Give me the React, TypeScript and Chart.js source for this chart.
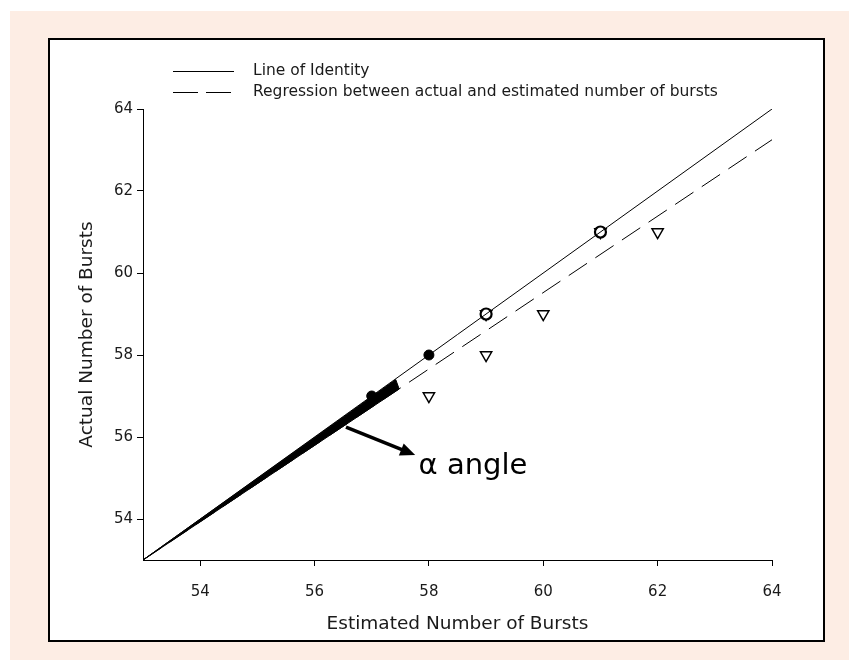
import React, { useEffect, useRef } from "react";
import { Chart, registerables } from "chart.js";

Chart.register(...registerables);

// ---- data ----
const axisMin = 53;
const axisMax = 64;
const xTicks = [54, 56, 58, 60, 62, 64];
const yTicks = [54, 56, 58, 60, 62, 64];

const identityX = [53, 64];
const identityY = [53, 64];
const regressionX = [53, 64];
const regressionY = [53, 63.25];

// overlapping bundle of lines forming the "alpha angle"
const bundleX = [53, 57.42, 57.48, 53];
const bundleY = [53, 57.4, 57.17, 53];

const actualFilledX = [57, 58];
const actualFilledY = [57, 58];
const actualOpenX = [59, 61];
const actualOpenY = [59, 61];
const estimatedX = [58, 59, 60, 62, 59, 61];
const estimatedY = [57, 58, 59, 61, 59, 61];

const legendLabels = [
  "Line of Identity",
  "Regression between actual and estimated number of bursts",
];
const xTitle = "Estimated Number of Bursts";
const yTitle = "Actual Number of Bursts";

const arrowFrom = [56.55, 56.24];
const arrowTo = [57.76, 55.56];
const annotationText = "\u03b1 angle";
const annotationAt = [57.82, 55.29];

const FONT = '"DejaVu Sans", "Liberation Sans", Arial, sans-serif';

const toPts = (xs: number[], ys: number[]) => xs.map((v, i) => ({ x: v, y: ys[i] }));

const overlayPlugin = {
  id: "overlay",
  afterDatasetsDraw(chart: any) {
    const { ctx, scales } = chart;
    const sx = scales.x;
    const sy = scales.y;
    ctx.save();
    // arrow
    const x1 = sx.getPixelForValue(arrowFrom[0]);
    const y1 = sy.getPixelForValue(arrowFrom[1]);
    const x2 = sx.getPixelForValue(arrowTo[0]);
    const y2 = sy.getPixelForValue(arrowTo[1]);
    const ang = Math.atan2(y2 - y1, x2 - x1);
    const headLen = 15;
    const headW = 6.5;
    const bx = x2 - headLen * Math.cos(ang);
    const by = y2 - headLen * Math.sin(ang);
    ctx.strokeStyle = "#000";
    ctx.fillStyle = "#000";
    ctx.lineWidth = 3.5;
    ctx.beginPath();
    ctx.moveTo(x1, y1);
    ctx.lineTo(bx + 2 * Math.cos(ang), by + 2 * Math.sin(ang));
    ctx.stroke();
    ctx.beginPath();
    ctx.moveTo(x2, y2);
    ctx.lineTo(bx + headW * Math.sin(ang), by - headW * Math.cos(ang));
    ctx.lineTo(bx - headW * Math.sin(ang), by + headW * Math.cos(ang));
    ctx.closePath();
    ctx.fill();
    // annotation text
    ctx.font = `29px ${FONT}`;
    ctx.textBaseline = "middle";
    ctx.textAlign = "left";
    ctx.fillText(annotationText, sx.getPixelForValue(annotationAt[0]), sy.getPixelForValue(annotationAt[1]));
    ctx.restore();
  },
  afterDraw(chart: any) {
    const { ctx } = chart;
    ctx.save();
    ctx.strokeStyle = "#000";
    ctx.lineWidth = 1;
    const lx0 = 123;
    const lx1 = 184;
    const rows = [31, 52];
    ctx.beginPath();
    ctx.setLineDash([]);
    ctx.moveTo(lx0, rows[0] + 0.5);
    ctx.lineTo(lx1, rows[0] + 0.5);
    ctx.stroke();
    ctx.beginPath();
    ctx.setLineDash([25, 8]);
    ctx.moveTo(lx0, rows[1] + 0.5);
    ctx.lineTo(lx1, rows[1] + 0.5);
    ctx.stroke();
    ctx.setLineDash([]);
    ctx.fillStyle = "#1a1a1a";
    ctx.font = `15.5px ${FONT}`;
    ctx.textBaseline = "middle";
    ctx.textAlign = "left";
    legendLabels.forEach((t, i) => ctx.fillText(t, 203, rows[i]));
    ctx.restore();
  },
};

function ChartView() {
  const ref = useRef<HTMLCanvasElement | null>(null);
  useEffect(() => {
    if (!ref.current) return;
    const chart = new Chart(ref.current, {
      type: "scatter",
      data: {
        datasets: [
          {
            label: "bundle",
            data: toPts(bundleX, bundleY),
            showLine: true,
            borderColor: "#000",
            borderWidth: 1,
            backgroundColor: "#000",
            fill: "shape",
            pointRadius: 0,
            tension: 0,
          } as any,
          {
            label: legendLabels[0],
            data: toPts(identityX, identityY),
            showLine: true,
            borderColor: "#000",
            borderWidth: 1,
            pointRadius: 0,
          },
          {
            label: legendLabels[1],
            data: toPts(regressionX, regressionY),
            showLine: true,
            borderColor: "#000",
            borderWidth: 1,
            borderDash: [22, 10],
            pointRadius: 0,
          },
          {
            label: "actual filled",
            data: toPts(actualFilledX, actualFilledY),
            pointStyle: "circle",
            pointRadius: 5,
            backgroundColor: "#000",
            borderColor: "#000",
            borderWidth: 1,
          },
          {
            label: "actual open",
            data: toPts(actualOpenX, actualOpenY),
            pointStyle: "circle",
            pointRadius: 5.5,
            backgroundColor: "#fff",
            borderColor: "#000",
            borderWidth: 2.2,
          },
          {
            label: "estimated",
            data: toPts(estimatedX, estimatedY),
            pointStyle: "triangle",
            rotation: 180,
            pointRadius: 6.5,
            backgroundColor: "rgba(255,255,255,0)",
            borderColor: "#000",
            borderWidth: 1.5,
          } as any,
        ],
      },
      options: {
        animation: false,
        responsive: true,
        maintainAspectRatio: false,
        layout: { padding: { top: 69, right: 51, left: 0, bottom: 0 } },
        plugins: { legend: { display: false }, tooltip: { enabled: false } },
        scales: {
          x: {
            type: "linear",
            min: axisMin,
            max: axisMax,
            afterBuildTicks: (s: any) => {
              s.ticks = xTicks.map((v) => ({ value: v }));
            },
            afterFit: (s: any) => {
              s.height = 80;
            },
            grid: { display: true, drawOnChartArea: false, drawTicks: true, tickLength: 6, color: "#000" },
            border: { display: true, color: "#000", width: 1 },
            ticks: { color: "#1a1a1a", padding: 17, font: { family: FONT, size: 15 } },
            title: {
              display: true,
              text: xTitle,
              color: "#1a1a1a",
              font: { family: FONT, size: 18.5 },
              padding: { top: 0, bottom: 5 },
            },
          },
          y: {
            type: "linear",
            min: axisMin,
            max: axisMax,
            afterBuildTicks: (s: any) => {
              s.ticks = yTicks.map((v) => ({ value: v }));
            },
            afterFit: (s: any) => {
              s.width = 93;
            },
            grid: { display: true, drawOnChartArea: false, drawTicks: true, tickLength: 6, color: "#000" },
            border: { display: true, color: "#000", width: 1 },
            ticks: { color: "#1a1a1a", padding: 4, font: { family: FONT, size: 15 } },
            title: {
              display: true,
              text: yTitle,
              color: "#1a1a1a",
              font: { family: FONT, size: 18.5 },
              padding: { top: 26, bottom: 0 },
            },
          },
        },
      },
      plugins: [overlayPlugin],
    } as any);
    return () => chart.destroy();
  }, []);
  return <canvas ref={ref} />;
}

export default function App() {
  return (
    <div style={{ position: "fixed", left: 0, top: 0, width: 849, height: 660, background: "#fff" }}>
      <div
        style={{
          position: "absolute",
          left: 10,
          top: 11,
          width: 839,
          height: 649,
          background: "rgb(253,237,228)",
        }}
      />
      <div
        style={{
          position: "absolute",
          left: 48,
          top: 38,
          width: 777,
          height: 604,
          border: "2px solid #000",
          boxSizing: "border-box",
          background: "#fff",
        }}
      />
      <div style={{ position: "absolute", left: 50, top: 40, width: 773, height: 600 }}>
        <ChartView />
      </div>
    </div>
  );
}
